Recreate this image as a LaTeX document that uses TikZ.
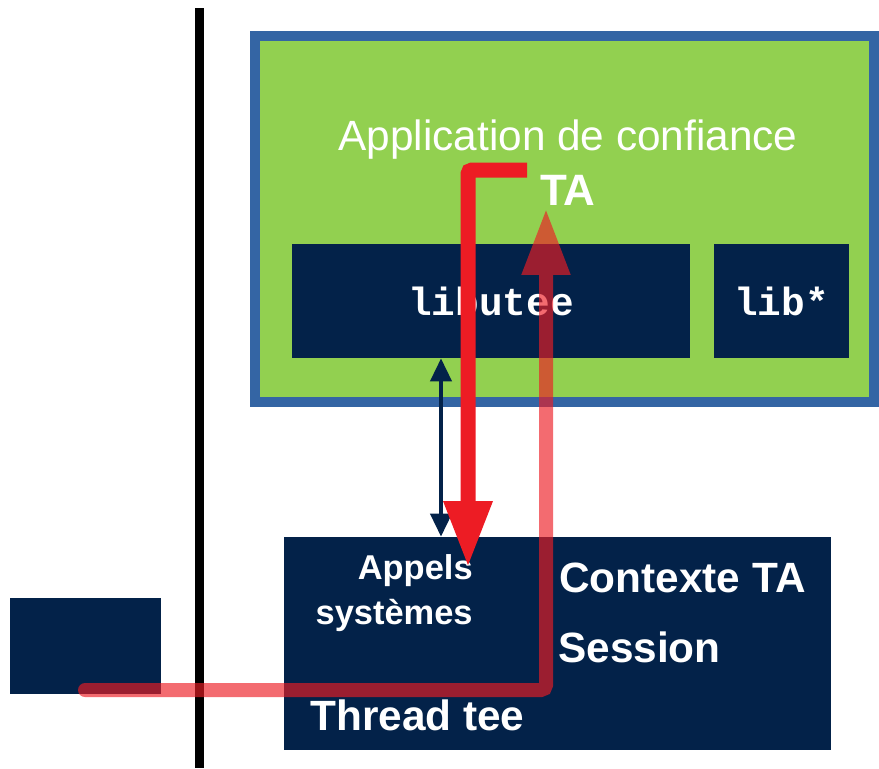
\documentclass[tikz,border=0pt]{standalone}
\usepackage{fontspec}
\setmainfont{Liberation Sans}
\setmonofont{Liberation Mono}
\usetikzlibrary{arrows.meta}
\usetikzlibrary{fit}

\definecolor{navy}{RGB}{3,34,73}
\definecolor{tagreen}{RGB}{146,208,80}
\definecolor{tablue}{RGB}{52,101,164}
\definecolor{flowred}{RGB}{237,28,36}

\begin{document}
\begin{tikzpicture}[x=0.02cm, y=-0.02cm,
        block/.style={fill=navy, inner sep=0pt, text=white},
        lib/.style={block, minimum height=2.28cm, font=\ttfamily\bfseries\fontsize{22.4}{26}\selectfont},
        txt/.style={text=white, inner sep=0pt},
        big/.style={font=\bfseries\fontsize{24.1}{28}\selectfont},
        flow/.style={line width=0.3cm, -{Triangle[length=1.34cm, width=0.9cm]}}]
        \useasboundingbox (0,0) rectangle (879,768);

        % separation
        \coordinate (sep top) at (199,8);
        \coordinate (sep bot) at (199,768);
        \draw[line width=0.18cm] (sep top) -- (sep bot);

        % boxes
        \node[fit={(255,36) (874,402)}, draw=tablue, line width=0.2cm, fill=tagreen, inner sep=0pt] (app) {};
        \node[lib, minimum width=7.96cm] (libutee) at (491,301) {libutee};
        \node[lib, minimum width=2.7cm] (libs) at (781.5,301) {lib*};
        \node[block, fit={(284,537) (831,750)}] (thread) {};
        \node[block, fit={(10,598) (161,694)}] (rich) {};

        % texts
        \node[txt, anchor=base, font=\fontsize{24.1}{28}\selectfont] (apptitle) at (568,150) {Application de confiance};
        \node[txt, anchor=base, font=\bfseries\fontsize{25}{28}\selectfont] (ta) at (568,205) {TA};
        \node[txt, align=right, anchor=north east, font=\bfseries\fontsize{19.6}{25.5}\selectfont] (syscalls) at (473,554) {Appels\\systèmes};
        \node[txt, big, anchor=base west] (ctx) at (559,592) {Contexte TA};
        \node[txt, big, anchor=base west] (session) at (558,662) {Session};
        \node[txt, big, anchor=base west] (threadtee) at (310,730) {Thread tee};

        % calls
        \coordinate (call) at (441,0);
        \draw[navy, line width=0.08cm, {Triangle[length=0.46cm, width=0.42cm]}-{Triangle[length=0.46cm, width=0.42cm]}]
            (libutee.south -| call) -- (thread.north -| call);

        \coordinate (ta out) at (527,170);
        \coordinate (ta call) at (468,568);
        \draw[flow, flowred, rounded corners=0.08cm] (ta out) -| (ta call);

        \coordinate (rich out) at (85,690);
        \coordinate (ta in) at (546,208);
        \begin{scope}[transparency group, opacity=0.65]
            \draw[flow, flowred, line width=0.28cm, line cap=round, rounded corners=0.1cm] (rich out) -| (ta in);
        \end{scope}
\end{tikzpicture}
\end{document}
